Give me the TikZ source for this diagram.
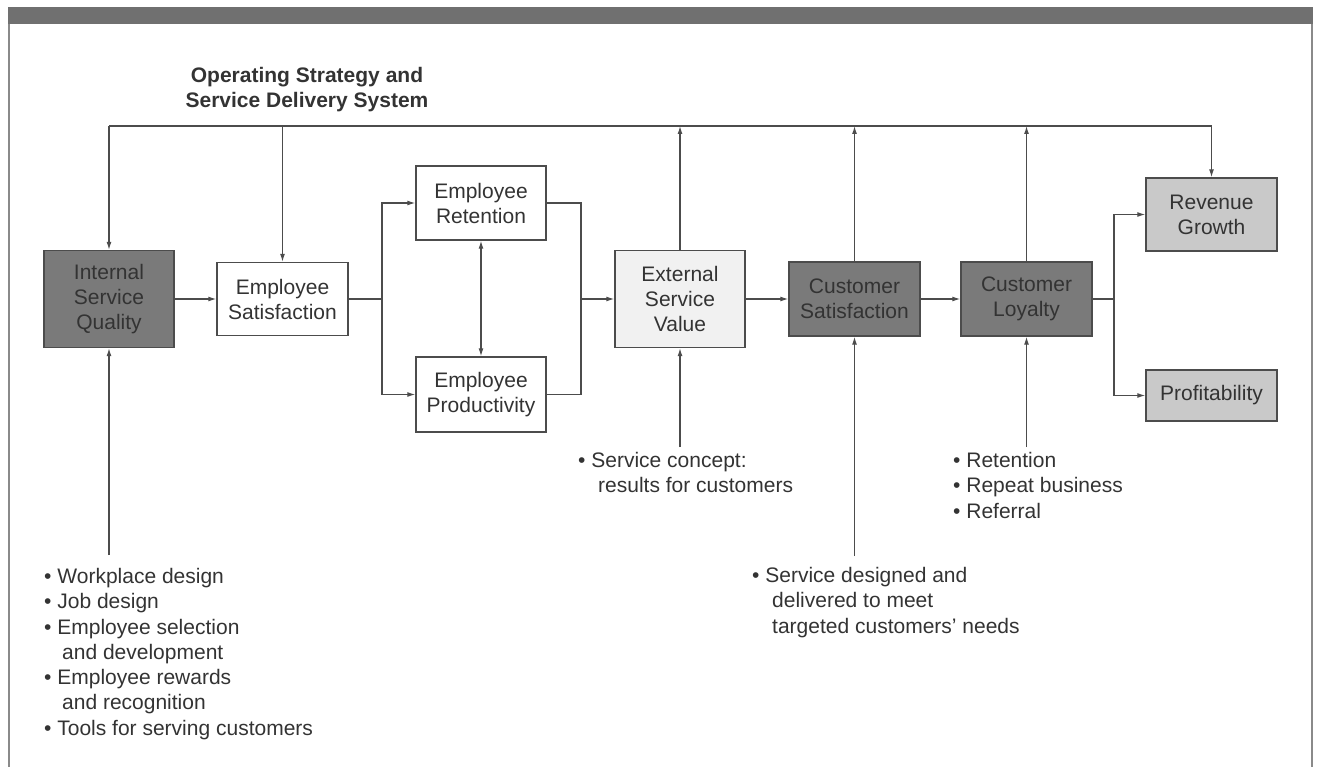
\documentclass[tikz,border=0pt]{standalone}
\usepackage{fontspec}
\setmainfont{Liberation Sans}
\usetikzlibrary{arrows.meta}

\definecolor{boxdark}{HTML}{7A7A7A}
\definecolor{boxlight}{HTML}{C9C9C9}
\definecolor{boxpale}{HTML}{F1F1F1}
\definecolor{ink}{HTML}{333333}
\definecolor{wire}{HTML}{4C4C4C}
\definecolor{barcol}{HTML}{707070}
\definecolor{framecol}{HTML}{8A8A8A}

\tikzset{
	box/.style={draw=wire, line width=1.4pt, text=ink, align=center, inner sep=0pt,
		minimum width=130pt, font=\fontsize{21}{25}\selectfont},
	darkbox/.style={box, fill=boxdark},
	lightbox/.style={box, fill=boxlight},
	palebox/.style={box, fill=boxpale},
	note/.style={text=ink, align=left, inner sep=0pt, font=\fontsize{21}{25.3}\selectfont},
	wiring/.style={draw=wire, line width=1.2pt},
	arr/.style={wiring, -{Latex[length=8pt,width=5pt]}},
	arrtwo/.style={wiring, {Latex[length=8pt,width=5pt]}-{Latex[length=8pt,width=5pt]}}
}

\begin{document}
\begin{tikzpicture}[x=1pt,y=-1pt]
	\useasboundingbox (0,0) rectangle (1317,767);

	% frame and heading bar
	\fill[barcol] (8,7) rectangle (1313,24);
	\draw[framecol, line width=2pt] (9,24) -- (9,767);
	\draw[framecol, line width=2pt] (1312,24) -- (1312,767);

	\node[text=ink, align=center, font=\bfseries\fontsize{21}{25}\selectfont] (strategy) at (307,89.5)
		{Operating Strategy and\\Service Delivery System};

	% boxes of the chain
	\node[darkbox, minimum height=97pt] (isq) at (109,299) {Internal\\Service\\Quality};
	\node[box, minimum width=131pt, minimum height=73pt] (es) at (282.5,299) {Employee\\Satisfaction};
	\node[box, minimum height=74pt] (er) at (481,203) {Employee\\Retention};
	\node[box, minimum height=75pt] (ep) at (481,394.5) {Employee\\Productivity};
	\node[palebox, minimum height=97pt] (esv) at (680,299) {External\\Service\\Value};
	\node[darkbox, minimum width=131pt, minimum height=74pt] (cs) at (854.5,299) {Customer\\Satisfaction};
	\node[darkbox, minimum width=131pt, minimum height=74pt] (cl) at (1026.5,299) {Customer\\Loyalty};
	\node[lightbox, minimum width=131pt, minimum height=73pt] (rg) at (1211.5,214.5) {Revenue\\Growth};
	\node[lightbox, minimum width=131pt, minimum height=51pt] (pr) at (1211.5,395.5) {Profitability};

	% notes under the chain
	\node[note, anchor=north west] (isqlist) at (44,568)
		{\textbullet\ Workplace design\\
		 \textbullet\ Job design\\
		 \textbullet\ Employee selection\\
		 \hspace*{18pt}and development\\
		 \textbullet\ Employee rewards\\
		 \hspace*{18pt}and recognition\\
		 \textbullet\ Tools for serving customers};
	\node[note, anchor=north west] (esvlist) at (578,452)
		{\textbullet\ Service concept:\\
		 \hspace*{20pt}results for customers};
	\node[note, anchor=north west] (cslist) at (752,567)
		{\textbullet\ Service designed and\\
		 \hspace*{20pt}delivered to meet\\
		 \hspace*{20pt}targeted customers' needs};
	\node[note, anchor=north west] (cllist) at (953,452)
		{\textbullet\ Retention\\
		 \textbullet\ Repeat business\\
		 \textbullet\ Referral};

	% strategy line across the top
	\coordinate (top) at (0,126);
	\draw[wiring] (isq.north |- top) -- (rg.north |- top);
	\draw[arr] (isq.north |- top) -- (isq.north);
	\draw[arr] (es.north |- top) -- (es.north);
	\draw[arr] (rg.north |- top) -- (rg.north);
	\draw[arr] (esv.north) -- (esv.north |- top);
	\draw[arr] (cs.north) -- (cs.north |- top);
	\draw[arr] (cl.north) -- (cl.north |- top);

	% main chain
	\draw[arr] (isq.east) -- (es.west);
	\coordinate (split) at (382,299);
	\draw[wiring] (es.east) -- (split);
	\draw[arr] (split) |- (er.west);
	\draw[arr] (split) |- (ep.west);
	\draw[arrtwo] (er.south) -- (ep.north);
	\coordinate (merge) at (581,299);
	\draw[wiring] (er.east) -| (merge) |- (ep.east);
	\draw[arr] (merge) -- (esv.west);
	\draw[arr] (esv.east) -- (cs.west);
	\draw[arr] (cs.east) -- (cl.west);
	\coordinate (fork) at (1114,299);
	\draw[wiring] (cl.east) -- (fork);
	\draw[arr] (fork) |- (rg.west);
	\draw[arr] (fork) |- (pr.west);

	% notes feeding up into the boxes
	\draw[arr] ([yshift=13pt]isq.south |- isqlist.north) -- (isq.south);
	\draw[arr] ([yshift=5pt]esv.south |- esvlist.north) -- (esv.south);
	\draw[arr] ([yshift=11pt]cs.south |- cslist.north) -- (cs.south);
	\draw[arr] ([yshift=5pt]cl.south |- cllist.north) -- (cl.south);
\end{tikzpicture}
\end{document}
